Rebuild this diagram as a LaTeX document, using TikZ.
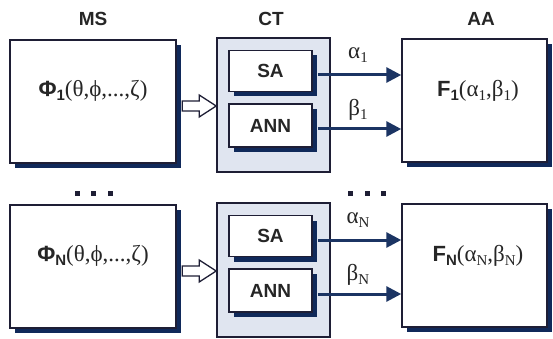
\documentclass[tikz,border=0pt]{standalone}
\usepackage{fontspec}
\setmainfont{Liberation Sans}
\newfontfamily\grk{Liberation Serif}
\usetikzlibrary{arrows.meta,shadows}
\definecolor{navy}{HTML}{10295A}
\definecolor{bord}{HTML}{1E1E35}
\definecolor{txt}{HTML}{262626}
\definecolor{ctfill}{HTML}{E0E5F0}
\definecolor{arrcol}{HTML}{1B3463}
\newcommand\mysub[1]{\raisebox{-3.5pt}{\fontsize{15}{16}\selectfont #1}}
\begin{document}
\begin{tikzpicture}[x=1pt,y=-1pt,
  sbox/.style={draw=bord, line width=1.5pt, fill=white, inner sep=0pt,
    drop shadow={shadow xshift=5pt, shadow yshift=-5pt, fill=navy, opacity=1}},
  ctbox/.style={draw=bord, line width=1.6pt, fill=ctfill, inner sep=0pt},
  ttl/.style={font=\fontsize{19}{21}\selectfont\bfseries, text=txt},
  big/.style={font=\fontsize{22}{26}\selectfont, text=txt, inner sep=0pt},
  inl/.style={font=\fontsize{19}{21}\selectfont\bfseries, text=txt},
  gl/.style={font=\fontsize{23}{26}\selectfont\grk, text=txt, inner sep=0pt},
  sig/.style={draw=arrcol, line width=3pt, -{Triangle[length=15pt,width=15pt]}},
  hollow/.style={draw=bord, fill=white, line width=1.3pt, line join=miter},
  dotsq/.style={fill=bord, minimum size=5pt, inner sep=0pt}
]
\useasboundingbox (0,0) rectangle (553,339);
\fill[white] (0,0) rectangle (553,339);

\node[ttl] (tMS) at (93,19) {MS};
\node[ttl] (tCT) at (271,19) {CT};
\node[ttl] (tAA) at (481,19) {AA};

\foreach \r/\dy in {1/0, N/165} {
  \node[sbox, minimum width=166pt, minimum height=123pt] (MS\r) at (93,101.5+\dy) {};
  \node[ctbox, minimum width=113pt, minimum height=134pt] (CT\r) at (273.5,105+\dy) {};
  \node[sbox, minimum width=83pt, minimum height=41pt, inl] (SA\r) at (270.5,71+\dy) {SA};
  \node[sbox, minimum width=83pt, minimum height=43pt, inl] (ANN\r) at (270.5,125.5+\dy) {ANN};
  \node[sbox, minimum width=145pt, minimum height=123pt] (AA\r) at (474.5,100.5+\dy) {};
  \node[big] (P\r) at (93,91+\dy) {\bfseries Φ\mysub{\r}{\grk\mdseries\fontsize{23}{26}\selectfont(θ,ϕ,...,ζ)}};
  \node[big] (F\r) at (478,91+\dy) {\bfseries F\mysub{\r}{\grk\mdseries\fontsize{23}{26}\selectfont(α\mysub{\r},β\mysub{\r})}};
  \node[gl] (al\r) at (358,55+\dy) {α\mysub{\r}};
  \node[gl] (be\r) at (358,110+\dy) {β\mysub{\r}};
  \draw[sig] ([xshift=5pt,yshift=-4pt]SA\r.east) -- ([yshift=-4pt]SA\r.east -| AA\r.west);
  \draw[sig] ([xshift=5pt,yshift=-3.5pt]ANN\r.east) -- ([yshift=-3.5pt]ANN\r.east -| AA\r.west);
  \draw[hollow] ([yshift=-1pt]CT\r.west) -- ++(-17,-11) -- ++(0,6) -- ++(-17,0) -- ++(0,10) -- ++(17,0) -- ++(0,6) -- cycle;
}

\node[dotsq] (d1) at (77,193) {};
\node[dotsq] (d2) at (93,193) {};
\node[dotsq] (d3) at (110,193) {};
\node[dotsq] (d4) at (350,193) {};
\node[dotsq] (d5) at (367,193) {};
\node[dotsq] (d6) at (383,193) {};
\end{tikzpicture}
\end{document}
